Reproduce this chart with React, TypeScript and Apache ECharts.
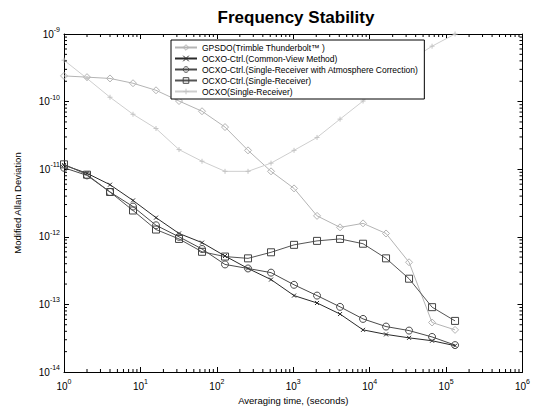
import React, { useEffect, useRef } from "react";
import * as echarts from "echarts";

// Averaging times (s): powers of two from 1 s to 131072 s
const tau = [1, 2, 4, 8, 16, 32, 64, 128, 256, 512, 1024, 2048, 4096, 8192, 16384, 32768, 65536, 131072];

const gpsdo = [2.4e-10, 2.3e-10, 2.2e-10, 1.87e-10, 1.47e-10, 1.02e-10, 7.2e-11, 4.2e-11, 1.9e-11, 9.3e-12, 5.2e-12, 2.04e-12, 1.38e-12, 1.58e-12, 1.12e-12, 4.2e-13, 5.4e-14, 4.2e-14];
const commonView = [1.15e-11, 8.7e-12, 5.9e-12, 3.45e-12, 1.92e-12, 1.12e-12, 8.2e-13, 5.2e-13, 3.4e-13, 2.33e-13, 1.35e-13, 1.05e-13, 7.2e-14, 4.2e-14, 3.6e-14, 3.2e-14, 2.9e-14, 2.45e-14];
const atmoCorr = [1.05e-11, 8.1e-12, 4.6e-12, 2.8e-12, 1.48e-12, 1.0e-12, 6.6e-13, 3.9e-13, 3.4e-13, 2.95e-13, 1.95e-13, 1.35e-13, 9.2e-14, 6.1e-14, 4.7e-14, 4.1e-14, 3.3e-14, 2.5e-14];
const singleRx = [1.18e-11, 8.3e-12, 4.6e-12, 2.45e-12, 1.28e-12, 9.3e-13, 6.0e-13, 5.1e-13, 4.8e-13, 5.9e-13, 7.6e-13, 8.7e-13, 9.3e-13, 7.9e-13, 4.8e-13, 2.4e-13, 9.1e-14, 5.7e-14];
const ocxo = [4.1e-10, 2.2e-10, 1.16e-10, 6.5e-11, 4.0e-11, 1.95e-11, 1.31e-11, 9.3e-12, 9.3e-12, 1.23e-11, 1.9e-11, 2.95e-11, 5.5e-11, 1.02e-10, 2.0e-10, 4.0e-10, 6.6e-10, 1.0e-9];

const seriesNames = [
  "GPSDO(Trimble Thunderbolt\u2122 )",
  "OCXO-Ctrl.(Common-View Method)",
  "OCXO-Ctrl.(Single-Receiver with Atmosphere Correction)",
  "OCXO-Ctrl.(Single-Receiver)",
  "OCXO(Single-Receiver)",
];

const xDecades = [0, 1, 2, 3, 4, 5];
const yDecades = [-14, -13, -12, -11, -10];

const X_MIN = 1;
const X_MAX = 1e6;
const Y_MIN = 1e-14;
const Y_MAX = 1e-9;

const FONT = "Liberation Sans, Arial, sans-serif";

// 2..9 multiples inside each decade, for the minor tick marks
const minorValues = (decades: number[]) => {
  const out: number[] = [];
  decades.forEach((k) => {
    for (let m = 2; m <= 9; m++) out.push(m * Math.pow(10, k));
  });
  return out;
};

const powLabel = (v: number) => {
  const e = Math.round(Math.log10(v));
  return `{b|10}{s|${e}}`;
};

const labelRich = {
  b: { fontSize: 10, fontFamily: FONT, color: "#000" },
  s: { fontSize: 7, fontFamily: FONT, color: "#000", padding: [0, 0, 9, 0] },
};

const X_PATH = "path://M0,0L10,10M10,0L0,10";
const PLUS_PATH = "path://M5,0L5,10M0,5L10,5";

const MINOR_LEN = 3;

export default function App() {
  const ref = useRef<HTMLDivElement>(null);

  useEffect(() => {
    if (!ref.current) return;
    const chart = echarts.init(ref.current, null, { renderer: "svg" });

    const pairs = (ys: number[]) => tau.map((t, i) => [t, ys[i]]);

    const baseX = { type: "log", logBase: 10, min: X_MIN, max: X_MAX, gridIndex: 0 };
    const baseY = { type: "log", logBase: 10, min: Y_MIN, max: Y_MAX, gridIndex: 0 };
    const line = { show: true, lineStyle: { color: "#000", width: 1 } };
    const majorTick = { show: true, inside: true, length: 5, lineStyle: { color: "#000", width: 1 } };

    const xMinor = minorValues(xDecades);
    const yMinor = minorValues(yDecades);

    const tickStyle = { stroke: "#000", lineWidth: 1 };

    // minor ticks on the bottom and top frame edges
    const xMinorSeries = {
      type: "custom",
      name: "xminor",
      silent: true,
      xAxisIndex: 0,
      yAxisIndex: 0,
      clip: false,
      z: 5,
      data: xMinor.map((v) => [v, Y_MIN]),
      renderItem: (_p: any, api: any) => {
        const v = api.value(0);
        const b = api.coord([v, Y_MIN]);
        const t = api.coord([v, Y_MAX]);
        return {
          type: "group",
          children: [
            { type: "line", shape: { x1: b[0], y1: b[1], x2: b[0], y2: b[1] - MINOR_LEN }, style: tickStyle },
            { type: "line", shape: { x1: t[0], y1: t[1], x2: t[0], y2: t[1] + MINOR_LEN }, style: tickStyle },
          ],
        };
      },
    };

    // minor ticks on the left and right frame edges
    const yMinorSeries = {
      type: "custom",
      name: "yminor",
      silent: true,
      xAxisIndex: 0,
      yAxisIndex: 0,
      clip: false,
      z: 5,
      data: yMinor.map((v) => [X_MIN, v]),
      renderItem: (_p: any, api: any) => {
        const v = api.value(1);
        const l = api.coord([X_MIN, v]);
        const r = api.coord([X_MAX, v]);
        return {
          type: "group",
          children: [
            { type: "line", shape: { x1: l[0], y1: l[1], x2: l[0] + MINOR_LEN, y2: l[1] }, style: tickStyle },
            { type: "line", shape: { x1: r[0], y1: r[1], x2: r[0] - MINOR_LEN, y2: r[1] }, style: tickStyle },
          ],
        };
      },
    };

    const mk = (
      name: string,
      ys: number[],
      color: string,
      symbol: string,
      size: number,
      markerColor: string
    ) => ({
      name,
      type: "line",
      xAxisIndex: 0,
      yAxisIndex: 0,
      data: pairs(ys),
      symbol,
      symbolSize: size,
      showSymbol: true,
      lineStyle: { color, width: 1 },
      itemStyle: { color: "rgba(255,255,255,0)", borderColor: markerColor, borderWidth: 1 },
      color,
    });

    chart.setOption({
      animation: false,
      backgroundColor: "#fff",
      title: {
        text: "Frequency Stability",
        left: 291,
        textAlign: "center",
        top: 4,
        textStyle: { fontSize: 17, fontWeight: "bold", fontFamily: FONT, color: "#000" },
      },
      grid: { left: 64, right: 10, top: 34, bottom: 40, containLabel: false },
      xAxis: [
        {
          ...baseX,
          position: "bottom",
          axisLine: line,
          axisTick: majorTick,
          axisLabel: { formatter: powLabel, rich: labelRich, margin: 6 },
          splitLine: { show: false },
          name: "Averaging time, (seconds)",
          nameLocation: "middle",
          nameGap: 18,
          nameTextStyle: { fontSize: 9.5, fontFamily: FONT, color: "#000" },
        },
        {
          ...baseX,
          position: "top",
          axisLine: line,
          axisTick: majorTick,
          axisLabel: { show: false },
          splitLine: { show: false },
        },
      ],
      yAxis: [
        {
          ...baseY,
          position: "left",
          axisLine: line,
          axisTick: majorTick,
          axisLabel: { formatter: powLabel, rich: labelRich, margin: 4 },
          splitLine: { show: false },
          name: "Modified Allan Deviation",
          nameLocation: "middle",
          nameGap: 42,
          nameTextStyle: { fontSize: 9.5, fontFamily: FONT, color: "#000" },
        },
        {
          ...baseY,
          position: "right",
          axisLine: line,
          axisTick: majorTick,
          axisLabel: { show: false },
          splitLine: { show: false },
        },
      ],
      legend: {
        left: 171,
        top: 40,
        orient: "vertical",
        backgroundColor: "#fff",
        borderColor: "#000",
        borderWidth: 1,
        borderRadius: 0,
        padding: [3, 6, 3, 3],
        itemGap: 2,
        itemWidth: 22,
        itemHeight: 7,
        itemStyle: { color: "rgba(255,255,255,0)", borderWidth: 1 },
        textStyle: { fontSize: 8.5, fontFamily: FONT, color: "#000" },
        data: seriesNames,
      },
      series: [
        xMinorSeries,
        yMinorSeries,
        mk(seriesNames[0], gpsdo, "#b4b4b4", "diamond", 7, "#b4b4b4"),
        mk(seriesNames[1], commonView, "#2a2a2a", X_PATH, 4, "#2a2a2a"),
        mk(seriesNames[2], atmoCorr, "#4a4a4a", "circle", 7, "#4a4a4a"),
        mk(seriesNames[3], singleRx, "#555555", "rect", 7, "#444444"),
        mk(seriesNames[4], ocxo, "#cecece", PLUS_PATH, 5, "#c4c4c4"),
      ],
    });

    return () => chart.dispose();
  }, []);

  return <div ref={ref} style={{ width: 533, height: 412, position: "absolute", left: 0, top: 0 }} />;
}
